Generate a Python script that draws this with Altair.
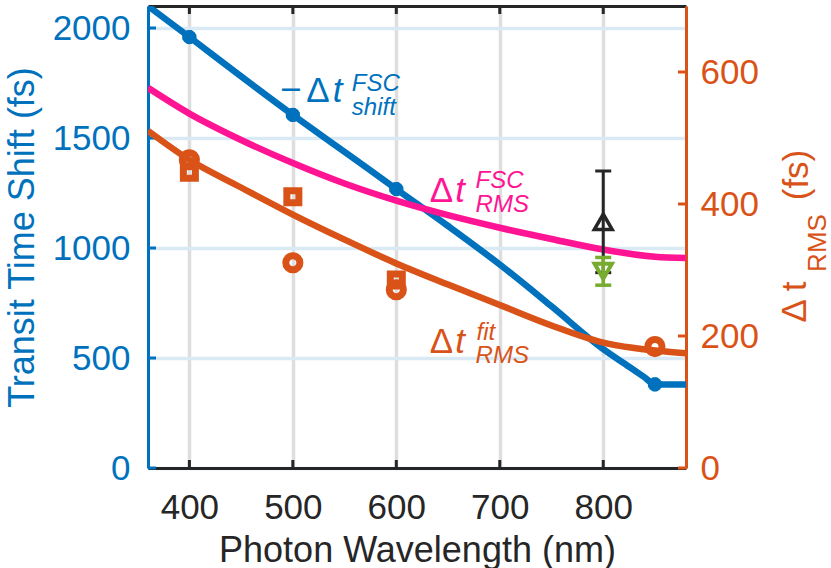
import altair as alt
import pandas as pd

W, H = 538, 462
FONT = "Liberation Sans"
BLUE, ORANGE, PINK, GREEN, DARK = "#0072BD", "#D95319", "#FF1493", "#77AC30", "#262626"

# ---- transit time shift (left axis, fs) ----
shift_wl = [360, 400, 450, 500, 550, 600, 650, 700, 750, 800, 825, 840, 850, 865, 880]
shift_fs = [2100, 1959, 1780, 1605, 1437, 1268, 1100, 925, 735, 540, 460, 412, 380, 380, 380]
shift_pts_wl = [400, 500, 600, 850]
shift_pts_fs = [1959, 1605, 1268, 380]

# ---- RMS spreads (right axis, fs) ----
rms_fsc_wl = [360, 400, 450, 500, 550, 600, 650, 700, 750, 800, 850, 880]
rms_fsc_fs = [576, 537, 497, 462, 431, 405, 383, 364, 347, 331, 320, 318]

rms_fit_wl = [360, 400, 450, 500, 550, 600, 650, 700, 750, 800, 850, 880]
rms_fit_fs = [511, 467, 425, 384, 346, 310, 278, 247, 216, 190, 178, 174]

circ_wl = [400, 500, 600, 850]
circ_fs = [467, 311, 270, 184]

sq_wl = [400, 500, 600]
sq_fs = [448, 411, 285]

up_wl, up_fs, up_err = [800], [373], [77]
down_wl, down_fs, down_err = [800], [298], [21]

# tick values
x_ticks = [400, 500, 600, 700, 800]
left_ticks = [0, 500, 1000, 1500, 2000]
right_ticks = [0, 200, 400, 600]

# in-plot labels: pieces placed in data units
shift_lbl_text = ["\u2212", "\u0394", "t", "FSC", "shift"]
shift_lbl_wl = [487.5, 513.0, 538.5, 557, 557]
shift_lbl_fs = [1664, 1664, 1664, 1714, 1605]
shift_lbl_size = [37, 35, 35, 24, 24]
shift_lbl_italic = [False, False, True, True, True]

rms_lbl_text = ["\u0394", "t", "FSC", "RMS", "\u0394", "t", "fit", "RMS"]
rms_lbl_wl = [632.3, 657.0, 676.6, 676.6, 632.3, 657.0, 677.6, 676.6]
rms_lbl_fs = [403, 403, 424, 388, 174, 174, 194, 159]
rms_lbl_size = [35, 35, 24, 24, 35, 35, 24, 24]
rms_lbl_italic = [False, True, True, True, False, True, True, True]
rms_lbl_color = [PINK] * 4 + [ORANGE] * 4

# ---- scales and axes ----
xs = alt.Scale(domain=[360, 880], nice=False, zero=False)
ys_left = alt.Scale(domain=[0, 2100], nice=False, zero=False)
ys_right = alt.Scale(domain=[0, 700], nice=False, zero=False)

ax_bottom = alt.Axis(
    orient="bottom", values=x_ticks, format="d", ticks=False,
    domainColor=DARK, domainWidth=3,
    labelColor=DARK, labelFontSize=35, labelPadding=50, labelBaseline="alphabetic",
    labelFlush=False, labelOverlap=False,
    grid=True, gridColor="#DEDEDE", gridWidth=3.5,
    title="Photon Wavelength (nm)", titleColor=DARK, titleFontSize=36,
    titleFontWeight="normal", titleX=W / 2, titleY=93,
    titleBaseline="alphabetic", titleAlign="center",
)
ax_top = alt.Axis(
    orient="top", values=x_ticks, ticks=False, labels=False, grid=False,
    domainColor=DARK, domainWidth=3, title=None,
)
ax_left = alt.Axis(
    orient="left", values=left_ticks, format="d", ticks=False,
    domainColor=BLUE, domainWidth=3,
    labelColor=BLUE, labelFontSize=35, labelPadding=18, labelFlush=False,
    labelOverlap=False,
    grid=True, gridColor="#D9EAF5", gridWidth=3.5,
    title="Transit Time Shift (fs)", titleColor=BLUE, titleFontSize=36,
    titleFontWeight="normal", titleAngle=270, titleX=-115, titleY=H / 2,
    titleBaseline="alphabetic", titleAlign="center",
)
ax_right = alt.Axis(
    orient="right", values=right_ticks, format="d", ticks=False,
    domainColor=ORANGE, domainWidth=3,
    labelColor=ORANGE, labelFontSize=35, labelPadding=14, labelFlush=False,
    labelOverlap=False, grid=False, title=None,
)

XA = alt.X("wl:Q", scale=xs, axis=ax_bottom)
YA = alt.Y("fs:Q", scale=ys_left, axis=ax_left)
XB = alt.X("wl:Q", scale=xs, axis=ax_top)
YB = alt.Y("rms:Q", scale=ys_right, axis=ax_right)

# ---- left-axis layer ----
shift_df = pd.DataFrame({"wl": shift_wl, "fs": shift_fs})
shift_pts = pd.DataFrame({"wl": shift_pts_wl, "fs": shift_pts_fs})
shift_lbl = pd.DataFrame({"wl": shift_lbl_wl, "fs": shift_lbl_fs, "text": shift_lbl_text,
                          "size": shift_lbl_size, "italic": shift_lbl_italic})

shift_line = alt.Chart(shift_df).mark_line(
    color=BLUE, strokeWidth=6.5, interpolate="monotone", clip=True
).encode(x=XA, y=YA)
shift_marks = alt.Chart(shift_pts).mark_point(
    shape="circle", filled=True, size=150, color=BLUE, opacity=1, stroke=BLUE, strokeWidth=2
).encode(x=XA, y=YA)
shift_spikes = alt.Chart(shift_pts).mark_point(
    shape="cross", filled=True, size=190, color=BLUE, opacity=1
).encode(x=XA, y=YA)
left_tick_marks = alt.Chart(pd.DataFrame({"fs": left_ticks})).mark_rule(
    color=BLUE, strokeWidth=3
).encode(y=YA, x=alt.value(0), x2=alt.value(8))
bottom_tick_marks = alt.Chart(pd.DataFrame({"wl": x_ticks})).mark_rule(
    color=DARK, strokeWidth=3
).encode(x=XA, y=alt.value(H), y2=alt.value(H - 8))
shift_txt_up = alt.Chart(shift_lbl[~shift_lbl["italic"]]).mark_text(
    align="left", baseline="alphabetic", color=BLUE
).encode(x=XA, y=YA, text="text:N", size=alt.Size("size:Q", scale=None))
shift_txt_it = alt.Chart(shift_lbl[shift_lbl["italic"]]).mark_text(
    align="left", baseline="alphabetic", color=BLUE, fontStyle="italic"
).encode(x=XA, y=YA, text="text:N", size=alt.Size("size:Q", scale=None))

left_layer = alt.layer(shift_line, left_tick_marks, bottom_tick_marks,
                       shift_marks, shift_spikes, shift_txt_up, shift_txt_it)

# ---- right-axis layer ----
fsc_df = pd.DataFrame({"wl": rms_fsc_wl, "rms": rms_fsc_fs})
fit_df = pd.DataFrame({"wl": rms_fit_wl, "rms": rms_fit_fs})
circ_df = pd.DataFrame({"wl": circ_wl, "rms": circ_fs})
sq_df = pd.DataFrame({"wl": sq_wl, "rms": sq_fs})


def err_frames(wl, val, err):
    bar = pd.DataFrame({"wl": wl,
                        "lo": [v - e for v, e in zip(val, err)],
                        "hi": [v + e for v, e in zip(val, err)]})
    caps = pd.DataFrame({"wl": wl + wl, "rms": list(bar["lo"]) + list(bar["hi"])})
    return bar, caps


up_bar, up_caps = err_frames(up_wl, up_fs, up_err)
down_bar, down_caps = err_frames(down_wl, down_fs, down_err)

fsc_line = alt.Chart(fsc_df).mark_line(
    color=PINK, strokeWidth=6.5, interpolate="monotone", clip=True
).encode(x=XB, y=YB)
fit_line = alt.Chart(fit_df).mark_line(
    color=ORANGE, strokeWidth=6.5, interpolate="monotone", clip=True
).encode(x=XB, y=YB)
circ_marks = alt.Chart(circ_df).mark_point(
    shape="circle", filled=False, size=200, strokeWidth=7, color=ORANGE, opacity=1
).encode(x=XB, y=YB)
sq_marks = alt.Chart(sq_df).mark_point(
    shape="square", filled=False, size=144, strokeWidth=7, color=ORANGE, opacity=1
).encode(x=XB, y=YB)


def errorbar(bar, caps, color, width):
    stem = alt.Chart(bar).mark_rule(color=color, strokeWidth=width).encode(
        x=XB, y=alt.Y("lo:Q", scale=ys_right, axis=ax_right), y2="hi:Q")
    cap = alt.Chart(caps).mark_tick(
        orient="horizontal", color=color, size=16, thickness=width, opacity=1
    ).encode(x=XB, y=YB)
    return stem + cap


up_err_marks = errorbar(up_bar, up_caps, DARK, 3)
up_marks = alt.Chart(pd.DataFrame({"wl": up_wl, "rms": up_fs})).mark_point(
    shape="triangle-up", filled=False, size=320, strokeWidth=3.5, color=DARK, opacity=1
).encode(x=XB, y=YB)
down_err_marks = errorbar(down_bar, down_caps, GREEN, 3.5)
down_marks = alt.Chart(pd.DataFrame({"wl": down_wl, "rms": down_fs})).mark_point(
    shape="triangle-down", filled=False, size=300, strokeWidth=4, color=GREEN, opacity=1
).encode(x=XB, y=YB)

top_tick_marks = alt.Chart(pd.DataFrame({"wl": x_ticks})).mark_rule(
    color=DARK, strokeWidth=3
).encode(x=XB, y=alt.value(0), y2=alt.value(8))
right_tick_marks = alt.Chart(pd.DataFrame({"rms": right_ticks})).mark_rule(
    color=ORANGE, strokeWidth=3
).encode(y=YB, x=alt.value(W), x2=alt.value(W - 8))

rms_lbl = pd.DataFrame({"wl": rms_lbl_wl, "rms": rms_lbl_fs, "text": rms_lbl_text,
                        "size": rms_lbl_size, "italic": rms_lbl_italic, "color": rms_lbl_color})
rms_txt_up = alt.Chart(rms_lbl[~rms_lbl["italic"]]).mark_text(
    align="left", baseline="alphabetic"
).encode(x=XB, y=YB, text="text:N", size=alt.Size("size:Q", scale=None),
         color=alt.Color("color:N", scale=None))
rms_txt_it = alt.Chart(rms_lbl[rms_lbl["italic"]]).mark_text(
    align="left", baseline="alphabetic", fontStyle="italic"
).encode(x=XB, y=YB, text="text:N", size=alt.Size("size:Q", scale=None),
         color=alt.Color("color:N", scale=None))


# right axis title: "Δ t" with RMS subscript, then "(fs)"
def vtext(s, px, py, size):
    return alt.Chart(pd.DataFrame({"t": [s]})).mark_text(
        angle=270, align="center", baseline="alphabetic", color=ORANGE, fontSize=size
    ).encode(text="t:N", x=alt.value(px), y=alt.value(py))


right_title = vtext("\u0394 t", 658, 296, 35) + vtext("RMS", 678, 237, 26) + vtext("(fs)", 660, 169, 35)

right_layer = alt.layer(
    fsc_line, fit_line, sq_marks, circ_marks,
    up_err_marks, up_marks, down_err_marks, down_marks,
    top_tick_marks, right_tick_marks, rms_txt_up, rms_txt_it, right_title,
)

chart = alt.layer(left_layer, right_layer).resolve_scale(
    x="independent", y="independent"
).resolve_axis(
    x="independent", y="independent"
).properties(
    width=W, height=H,
    autosize=alt.AutoSizeParams(type="none"),
    padding={"left": 148, "top": 6, "right": 145, "bottom": 100},
    background="white",
).configure_view(stroke=None).configure_axis(
    labelFont=FONT, titleFont=FONT
).configure_text(font=FONT)

chart.save("out.html", embed_options={"renderer": "svg", "actions": False})
